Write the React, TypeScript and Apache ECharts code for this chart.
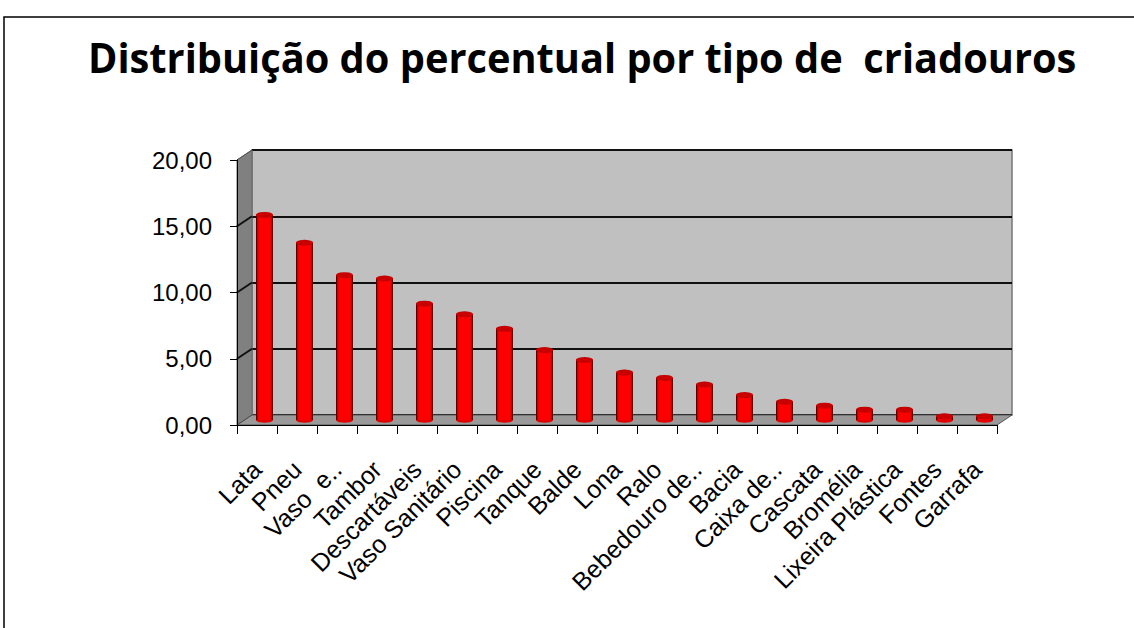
import React, { useEffect, useRef } from "react";
import * as echarts from "echarts";

const categories = [
  "Lata", "Pneu", "Vaso  e..", "Tambor", "Descartáveis", "Vaso Sanitário", "Piscina",
  "Tanque", "Balde", "Lona", "Ralo", "Bebedouro de..", "Bacia", "Caixa de..",
  "Cascata", "Bromélia", "Lixeira Plástica", "Fontes", "Garrafa",
];
const values = [15.5, 13.4, 10.95, 10.7, 8.8, 8.0, 6.9, 5.3, 4.55, 3.6, 3.2, 2.7, 1.9, 1.4, 1.1, 0.8, 0.8, 0.3, 0.3];
const yTicks = [0, 5, 10, 15, 20];
const titleText = "Distribuição do percentual por tipo de  criadouros";

// layout
const FL = 237, FT = 160, W = 760, H = 265; // front plane
const DX = 15, DY = -10; // depth offset

export default function App() {
  const ref = useRef<HTMLDivElement>(null);
  useEffect(() => {
    document.body.style.margin = "0";
    const chart = echarts.init(ref.current!, null, { renderer: "svg" });

    const titleFont = "bold 42px 'Open Sans'";
    let scaleX = 0.8;
    try {
      const c = document.createElement("canvas").getContext("2d")!;
      c.font = titleFont;
      const w = c.measureText(titleText).width;
      if (w > 0) scaleX = 989 / w;
    } catch (e) {}

    const yOf = (v: number) => FT + H - (v / 20) * H;
    const wallLines = yTicks.map((v) => ({
      type: "line",
      z: 2,
      shape: { x1: FL, y1: yOf(v), x2: FL + DX, y2: yOf(v) + DY },
      style: { stroke: v === 0 || v === 20 ? "#555" : "#111", lineWidth: v === 0 || v === 20 ? 1 : 2 },
    }));

    chart.setOption({
      animation: false,
      textStyle: { fontFamily: "Liberation Sans" },
      graphic: [
        {
          type: "rect", z: 1,
          shape: { x: 4, y: 17, width: 1300, height: 800 },
          style: { fill: "none", stroke: "#000", lineWidth: 1.5 },
        },
        {
          type: "text", z: 10, x: 88, y: 57, scaleX,
          style: {
            text: titleText, font: titleFont, fill: "#000",
            textAlign: "left", textVerticalAlign: "middle",
          },
        },
        {
          type: "polygon", z: 1,
          shape: { points: [[FL, FT + H], [FL, FT], [FL + DX, FT + DY], [FL + DX, FT + H + DY]] },
          style: { fill: "#808080", stroke: "#666", lineWidth: 1 },
        },
        {
          type: "polygon", z: 1,
          shape: { points: [[FL, FT + H], [FL + DX, FT + H + DY], [FL + W + DX, FT + H + DY], [FL + W, FT + H]] },
          style: { fill: "#9a9a9a", stroke: "#555", lineWidth: 1 },
        },
        ...wallLines,
      ],
      grid: [
        { left: FL, top: FT, width: W, height: H },
        {
          left: FL + DX, top: FT + DY, width: W, height: H, show: true,
          backgroundColor: "#c0c0c0", borderColor: "#777", borderWidth: 1.5,
        },
        { left: FL + DX / 2, top: FT + DY / 2, width: W, height: H },
      ],
      xAxis: [
        {
          type: "category", gridIndex: 0, data: categories, z: 5,
          axisLine: { show: true, lineStyle: { color: "#000", width: 1 } },
          axisTick: { show: true, length: 9, lineStyle: { color: "#000" } },
          axisLabel: {
            interval: 0, rotate: 45, fontSize: 25, color: "#000", margin: 40,
            fontFamily: "Liberation Sans",
          },
        },
        { type: "category", gridIndex: 1, data: categories, show: false },
        { type: "category", gridIndex: 2, data: categories, show: false },
      ],
      yAxis: [
        {
          type: "value", gridIndex: 0, min: 0, max: 20, interval: 5, z: 5,
          axisLine: { show: true, lineStyle: { color: "#000", width: 1 } },
          axisTick: { show: true, length: 7, lineStyle: { color: "#000" } },
          splitLine: { show: false },
          axisLabel: {
            fontSize: 24, color: "#000", margin: 25, fontFamily: "Liberation Sans",
            formatter: (v: number) => v.toFixed(2).replace(".", ","),
          },
        },
        {
          type: "value", gridIndex: 1, min: 0, max: 20, interval: 5,
          axisLine: { show: false }, axisTick: { show: false }, axisLabel: { show: false },
          splitLine: { show: true, lineStyle: { color: "#111", width: 2 } },
        },
        {
          type: "value", gridIndex: 2, min: 0, max: 20, interval: 5, show: false,
          splitLine: { show: false },
        },
      ],
      series: [
        {
          type: "pictorialBar", xAxisIndex: 2, yAxisIndex: 2, z: 2,
          data: values, symbol: "circle", symbolSize: [17, 6],
          symbolPosition: "start", symbolOffset: [0, "50%"],
          itemStyle: { color: "#e00000", borderColor: "#000", borderWidth: 1 },
        },
        {
          type: "bar", xAxisIndex: 2, yAxisIndex: 2, z: 3,
          data: values, barWidth: 17,
          itemStyle: {
            color: new echarts.graphic.LinearGradient(0, 0, 1, 0, [
              { offset: 0, color: "#1a0000" },
              { offset: 0.07, color: "#b00000" },
              { offset: 0.18, color: "#ff0000" },
              { offset: 0.82, color: "#ff0000" },
              { offset: 0.93, color: "#c00000" },
              { offset: 1, color: "#1a0000" },
            ]),
          },
        },
        {
          type: "pictorialBar", xAxisIndex: 2, yAxisIndex: 2, z: 4,
          data: values, symbol: "circle", symbolSize: [17, 6],
          symbolPosition: "end", symbolOffset: [0, "-50%"],
          itemStyle: { color: "#c80000", borderColor: "#000", borderWidth: 1 },
        },
      ],
    });
    return () => chart.dispose();
  }, []);
  return <div ref={ref} style={{ position: "fixed", left: 0, top: 0, width: 1134, height: 628, background: "#fff" }} />;
}
